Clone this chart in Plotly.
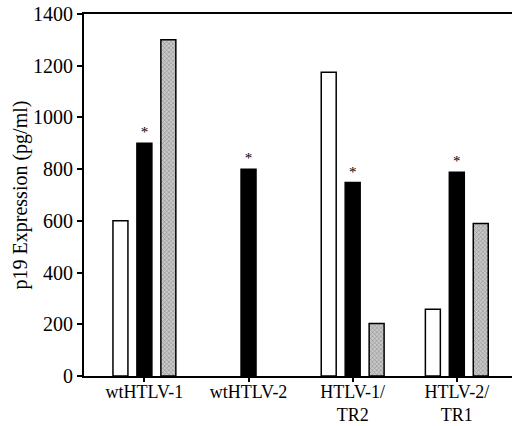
import plotly.graph_objects as go

categories = ["wtHTLV-1", "wtHTLV-2", "HTLV-1/<br>TR2", "HTLV-2/<br>TR1"]
white_vals = [600, None, 1175, 258]
black_vals = [900, 800, 748, 788]
gray_vals = [1300, None, 203, 590]
black_marks = ["*", "*", "*", "*"]
y_ticks = [0, 200, 400, 600, 800, 1000, 1200, 1400]

x = list(range(len(categories)))
FONT = "Liberation Serif, Times New Roman, serif"

fig = go.Figure()
fig.add_trace(go.Bar(
    x=x, y=white_vals,
    marker=dict(color="white", line=dict(color="black", width=1.5)),
))
fig.add_trace(go.Bar(
    x=x, y=black_vals, text=black_marks, textposition="outside",
    outsidetextfont=dict(family=FONT, size=15, color="#000000"),
    textfont=dict(family=FONT, size=15, color="#000000"),
    marker=dict(color="black", line=dict(color="black", width=1.5)),
    cliponaxis=False,
))
fig.add_trace(go.Bar(
    x=x, y=gray_vals,
    marker=dict(color="#b0b0b0", line=dict(color="black", width=1.5),
                pattern=dict(shape="x", size=3, fgcolor="#555555", bgcolor="#c8c8c8", solidity=0.35)),
))

fig.update_layout(
    width=512, height=426,
    margin=dict(l=84, r=0, t=14, b=50, autoexpand=False),
    paper_bgcolor="white", plot_bgcolor="white",
    barmode="group", bargap=0.31, bargroupgap=0.375,
    showlegend=False,
    font=dict(family=FONT, color="black", size=18),
    xaxis=dict(
        tickmode="array", tickvals=x, ticktext=categories,
        range=[-0.58, 3.53], automargin=False,
        showline=True, linecolor="black", linewidth=2, mirror=True,
        ticks="outside", ticklen=4, tickwidth=1.5, tickcolor="black",
        showgrid=False, zeroline=False,
        tickfont=dict(family=FONT, size=18),
        ticklabelstandoff=-6,
    ),
    yaxis=dict(
        range=[0, 1400], tickvals=y_ticks, automargin=False,
        showline=True, linecolor="black", linewidth=2, mirror=False,
        ticks="outside", ticklen=5, tickwidth=1.5, tickcolor="black",
        showgrid=False, zeroline=False,
        tickfont=dict(family=FONT, size=20),
        title=dict(text="p19 Expression (pg/ml)", font=dict(family=FONT, size=20), standoff=0),
    ),
)

fig.write_html("out.html")
